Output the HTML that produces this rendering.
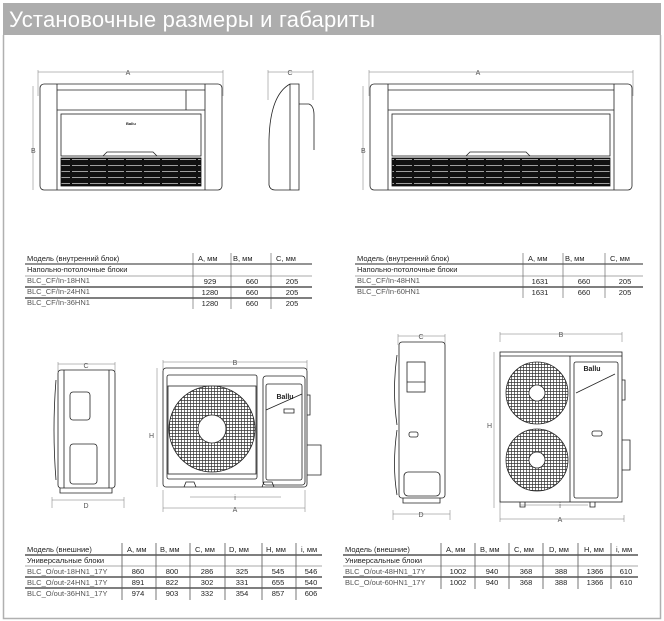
<!DOCTYPE html>
<html><head><meta charset="utf-8"><style>
body{margin:0;background:#fff;}
svg{display:block;font-family:"Liberation Sans","DejaVu Sans",sans-serif;}
.t{font-size:7.5px;fill:#222;}
.d{font-size:7px;fill:#555;}
</style></head><body>
<svg width="664" height="621" viewBox="0 0 664 621" xmlns="http://www.w3.org/2000/svg">
<defs>
<pattern id="gr" x="0" y="0" width="18" height="6" patternUnits="userSpaceOnUse">
<rect width="18" height="6" fill="#111"/>
<line x1="0" y1="3.5" x2="16" y2="3.5" stroke="#fff" stroke-width="0.6"/>
</pattern>
<pattern id="fg" x="0" y="0" width="3" height="3" patternUnits="userSpaceOnUse">
<rect width="3" height="3" fill="#fff"/><path d="M0 1.5H3M1.5 0V3" stroke="#333" stroke-width="0.7"/>
</pattern>
</defs>
<rect x="3" y="3" width="658" height="32" fill="#adadad"/>
<text x="9" y="27" font-size="22" fill="#fff" textLength="366" style="font-family:'Liberation Sans','DejaVu Sans',sans-serif;font-weight:300">Установочные размеры и габариты</text>
<path d="M3.5 35V618.5H660.5V35" fill="none" stroke="#b0b0b0" stroke-width="1.5"/>

<g fill="none" stroke="#222" stroke-width="0.8">
<path d="M38 72H223M38 70V96M223 70V96M33 86V190" stroke="#777" stroke-width="0.5"/>
<rect x="40" y="84" width="182" height="106" rx="4"/>
<path d="M57 84V190M205 84V190M57 90H205M57 110H205M186 90V110"/>
<rect x="61" y="114" width="140" height="42"/>
<path d="M103 156l4-4h46l4 4"/>
<rect x="61" y="158" width="140" height="28" fill="url(#gr)" stroke="#111"/>
<path d="M268 72H313M268 70V100M313 70V100" stroke="#777" stroke-width="0.5"/>
<path d="M290 84H299V190H275Q270 190 269 185V140Q270 95 290 84ZM290 84V190M299 104H309Q314 106 314 115V150"/>
<path d="M369 72H633M369 70V96M633 70V96M363 86V190" stroke="#777" stroke-width="0.5"/>
<rect x="370" y="84" width="262" height="106" rx="4"/>
<path d="M388 84V190M614 84V190M388 90H614M388 110H614"/>
<rect x="392" y="114" width="218" height="42"/>
<path d="M466 156l4-4h56l4 4"/>
<rect x="392" y="158" width="218" height="28" fill="url(#gr)" stroke="#111"/>
</g>
<text x="128" y="75" class="d" text-anchor="middle">A</text>
<text x="290" y="75" class="d" text-anchor="middle">C</text>
<text x="478" y="75" class="d" text-anchor="middle">A</text>
<text x="31" y="153" class="d">B</text>
<text x="361" y="153" class="d">B</text>
<text x="126" y="125" font-size="4" font-weight="bold" fill="#222">Ballu</text>

<g fill="none" stroke="#222" stroke-width="0.8">
<path d="M58 364H115M58 362V372M115 362V372M52 500H124M52 497V508M124 497V508" stroke="#777" stroke-width="0.5"/>
<rect x="58" y="370" width="57" height="118" rx="3"/>
<path d="M64 370V488M109 370V488M56 380Q52 430 56 480"/>
<rect x="70" y="392" width="20" height="28" rx="3"/>
<rect x="70" y="444" width="27" height="40" rx="3"/>
<path d="M60 488V493H112V488"/>
</g>
<text x="86" y="368" class="d" text-anchor="middle">C</text>
<text x="86" y="508" class="d" text-anchor="middle">D</text>
<g fill="none" stroke="#222" stroke-width="0.8">
<path d="M163 362H307M163 360V370M307 360V370M157 368V487M190 497H281M163 508H305M163 490V512M305 490V512" stroke="#777" stroke-width="0.5"/>
<rect x="163" y="368" width="144" height="119" rx="3"/>
<rect x="167" y="375" width="90" height="104" rx="2"/>
<rect x="168" y="386" width="88" height="88"/>
<circle cx="212" cy="429" r="43" fill="url(#fg)"/>
<circle cx="212" cy="429" r="14" fill="#fff"/>
<rect x="263" y="376" width="42" height="109" rx="3"/>
<rect x="266" y="384" width="36" height="96" rx="2"/>
<path d="M266 410L302 394M284 409h10v4h-10z"/>
<path d="M307 395h3v20h-3M307 445h14v30h-14"/>
<path d="M184 487l2-5h8l2 5M274 487l-2-5h-8l-2 5"/>
</g>
<text x="285" y="399" font-size="7" font-weight="bold" fill="#222" text-anchor="middle">Ballu</text>
<text x="235" y="365" class="d" text-anchor="middle">B</text>
<text x="235" y="500" class="d" text-anchor="middle">i</text>
<text x="235" y="512" class="d" text-anchor="middle">A</text>
<text x="154" y="438" class="d" text-anchor="end">H</text>

<g fill="none" stroke="#222" stroke-width="0.8">
<path d="M398 336H445M398 334V345M445 334V345M393 514H450M393 510V520M450 510V520" stroke="#777" stroke-width="0.5"/>
<rect x="399" y="342" width="46" height="156" rx="3"/>
<path d="M397 355Q392 390 397 425M397 430Q392 465 397 495"/>
<rect x="407" y="362" width="18" height="30"/>
<path d="M407 382H425"/>
<rect x="409" y="432" width="9" height="5" rx="2"/>
<rect x="404" y="472" width="36" height="24" rx="4"/>
<path d="M403 498V503H440V498"/>
</g>
<text x="421" y="339" class="d" text-anchor="middle">C</text>
<text x="421" y="517" class="d" text-anchor="middle">D</text>
<g fill="none" stroke="#222" stroke-width="0.8">
<path d="M500 334H622M500 332V342M622 332V342M494 352V508M520 505H588M500 519H624M500 500V522M624 515V522" stroke="#777" stroke-width="0.5"/>
<rect x="500" y="352" width="122" height="150"/>
<path d="M500 356H622M570 356V502"/>
<circle cx="537" cy="393" r="31" fill="url(#fg)"/>
<circle cx="537" cy="393" r="8" fill="#fff"/>
<circle cx="537" cy="460" r="31" fill="url(#fg)"/>
<circle cx="537" cy="460" r="8" fill="#fff"/>
<rect x="574" y="362" width="44" height="136" rx="2"/>
<path d="M576 393L615 374"/>
<rect x="592" y="431" width="10" height="5" rx="2"/>
<path d="M622 380h3v20h-3M622 440h8v30h-8M520 502v5h5v-5M590 502v5h5v-5"/>
</g>
<text x="592" y="371" font-size="7" font-weight="bold" fill="#222" text-anchor="middle">Ballu</text>
<text x="561" y="337" class="d" text-anchor="middle">B</text>
<text x="560" y="508" class="d" text-anchor="middle">i</text>
<text x="560" y="522" class="d" text-anchor="middle">A</text>
<text x="492" y="428" class="d" text-anchor="end">H</text>

<g class="t">
<text x="27" y="261">Модель (внутренний блок)</text><text x="198" y="261">A, мм</text><text x="233" y="261">B, мм</text><text x="276" y="261">C, мм</text>
<text x="27" y="272">Напольно-потолочные блоки</text>
<text x="27" y="283" fill="#555">BLC_CF/In-18HN1</text><text x="210" y="284" text-anchor="middle">929</text><text x="252" y="284" text-anchor="middle">660</text><text x="292" y="284" text-anchor="middle">205</text>
<text x="27" y="294" fill="#555">BLC_CF/In-24HN1</text><text x="210" y="295" text-anchor="middle">1280</text><text x="252" y="295" text-anchor="middle">660</text><text x="292" y="295" text-anchor="middle">205</text>
<text x="27" y="305" fill="#555">BLC_CF/In-36HN1</text><text x="210" y="306" text-anchor="middle">1280</text><text x="252" y="306" text-anchor="middle">660</text><text x="292" y="306" text-anchor="middle">205</text>
</g>
<g stroke="#555" fill="none">
<path d="M25 264H312" stroke-width="1.2"/><path d="M25 276H312" stroke-width="0.6"/><path d="M25 287H312M25 298H312" stroke-width="1.6"/>
<path d="M193 253V309M231 253V309M271 253V309" stroke-width="0.6"/>
</g>
<g class="t">
<text x="357" y="261">Модель (внутренний блок)</text><text x="528" y="261">A, мм</text><text x="565" y="261">B, мм</text><text x="610" y="261">C, мм</text>
<text x="357" y="272">Напольно-потолочные блоки</text>
<text x="357" y="283" fill="#555">BLC_CF/In-48HN1</text><text x="540" y="284" text-anchor="middle">1631</text><text x="584" y="284" text-anchor="middle">660</text><text x="625" y="284" text-anchor="middle">205</text>
<text x="357" y="294" fill="#555">BLC_CF/In-60HN1</text><text x="540" y="295" text-anchor="middle">1631</text><text x="584" y="295" text-anchor="middle">660</text><text x="625" y="295" text-anchor="middle">205</text>
</g>
<g stroke="#555" fill="none">
<path d="M355 264H643" stroke-width="1.2"/><path d="M355 276H643" stroke-width="0.6"/><path d="M355 287H643" stroke-width="1.6"/>
<path d="M523 253V298M563 253V298M605 253V298" stroke-width="0.6"/>
</g>
<g class="t">
<text x="27" y="552">Модель (внешние)</text><text x="127" y="552">A, мм</text><text x="160" y="552">B, мм</text><text x="195" y="552">C, мм</text><text x="229" y="552">D, мм</text><text x="266" y="552">H, мм</text><text x="301" y="552">i, мм</text>
<text x="27" y="563">Универсальные блоки</text>
<text x="27" y="574" fill="#555">BLC_O/out-18HN1_17Y</text><text x="138" y="574" text-anchor="middle">860</text><text x="172" y="574" text-anchor="middle">800</text><text x="207" y="574" text-anchor="middle">286</text><text x="242" y="574" text-anchor="middle">325</text><text x="278" y="574" text-anchor="middle">545</text><text x="311" y="574" text-anchor="middle">546</text>
<text x="27" y="585" fill="#555">BLC_O/out-24HN1_17Y</text><text x="138" y="585" text-anchor="middle">891</text><text x="172" y="585" text-anchor="middle">822</text><text x="207" y="585" text-anchor="middle">302</text><text x="242" y="585" text-anchor="middle">331</text><text x="278" y="585" text-anchor="middle">655</text><text x="311" y="585" text-anchor="middle">540</text>
<text x="27" y="596" fill="#555">BLC_O/out-36HN1_17Y</text><text x="138" y="596" text-anchor="middle">974</text><text x="172" y="596" text-anchor="middle">903</text><text x="207" y="596" text-anchor="middle">332</text><text x="242" y="596" text-anchor="middle">354</text><text x="278" y="596" text-anchor="middle">857</text><text x="311" y="596" text-anchor="middle">606</text>
</g>
<g stroke="#555" fill="none">
<path d="M25 555H322" stroke-width="1.6"/><path d="M25 566H322" stroke-width="0.6"/><path d="M25 577H322M25 588H322" stroke-width="1.6"/>
<path d="M122 543V600M156 543V600M190 543V600M225 543V600M262 543V600M296 543V600" stroke-width="0.8"/>
</g>
<g class="t">
<text x="345" y="552">Модель (внешние)</text><text x="446" y="552">A, мм</text><text x="480" y="552">B, мм</text><text x="514" y="552">C, мм</text><text x="549" y="552">D, мм</text><text x="584" y="552">H, мм</text><text x="616" y="552">i, мм</text>
<text x="345" y="563">Универсальные блоки</text>
<text x="345" y="574" fill="#555">BLC_O/out-48HN1_17Y</text><text x="458" y="574" text-anchor="middle">1002</text><text x="492" y="574" text-anchor="middle">940</text><text x="526" y="574" text-anchor="middle">368</text><text x="561" y="574" text-anchor="middle">388</text><text x="595" y="574" text-anchor="middle">1366</text><text x="626" y="574" text-anchor="middle">610</text>
<text x="345" y="585" fill="#555">BLC_O/out-60HN1_17Y</text><text x="458" y="585" text-anchor="middle">1002</text><text x="492" y="585" text-anchor="middle">940</text><text x="526" y="585" text-anchor="middle">368</text><text x="561" y="585" text-anchor="middle">388</text><text x="595" y="585" text-anchor="middle">1366</text><text x="626" y="585" text-anchor="middle">610</text>
</g>
<g stroke="#555" fill="none">
<path d="M343 555H638" stroke-width="1.6"/><path d="M343 566H638" stroke-width="0.6"/><path d="M343 577H638" stroke-width="1.6"/>
<path d="M441 543V589M475 543V589M509 543V589M543 543V589M578 543V589M611 543V589" stroke-width="0.8"/>
</g>
</svg>
</body></html>
